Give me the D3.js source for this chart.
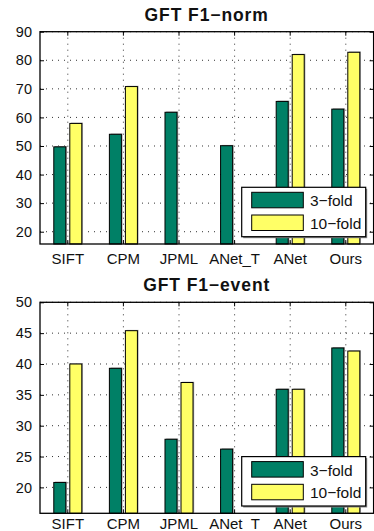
<!DOCTYPE html>
<html><head><meta charset="utf-8">
<script src="https://cdn.jsdelivr.net/npm/d3@7"></script>
<style>
html,body{margin:0;padding:0;background:#fff;}
svg{display:block;font-family:"Liberation Sans",Arial,Helvetica,sans-serif;}
</style></head>
<body>
<script>
const categories = ["SIFT","CPM","JPML","ANet_T","ANet","Ours"];
const seriesNames = ["3\u2212fold","10\u2212fold"];
const normThree = [49.7, 54.1, 61.8, 50.1, 65.6, 62.9];
const normTen   = [57.9, 70.8, null, null, 82.0, 82.8];
const eventThree = [20.8, 39.3, 27.8, 26.2, 35.9, 42.6];
const eventTen   = [40.0, 45.4, 37.0, null, 35.9, 42.1];
const normTicks = [20,30,40,50,60,70,80,90];
const eventTicks = [20,25,30,35,40,45,50];
const colors = ["#008066","#ffff66"];

const W = 374, H = 531;
const svg = d3.select("body").append("svg").attr("width", W).attr("height", H);

const panels = [
  {title:"GFT F1\u2212norm", three:normThree, ten:normTen, ticks:normTicks, domain:[15.7,90], top:31.7, bottom:244, titleY:20.7, pad:9},
  {title:"GFT F1\u2212event", three:eventThree, ten:eventTen, ticks:eventTicks, domain:[15.8,50], top:302.3, bottom:513.3, titleY:290.7, pad:5.5}
];
const left = 40, right = 373.6;

panels.forEach(p => {
  const g = svg.append("g");
  const x = d3.scaleBand().domain(categories).range([left, right]).padding(0);
  const y = d3.scaleLinear().domain(p.domain).range([p.bottom, p.top]);
  const bw = x.bandwidth();
  const cx = d => x(d) + bw/2;

  // grid
  g.append("g").selectAll("line").data(p.ticks).join("line")
    .attr("x1", left).attr("x2", right).attr("y1", d=>y(d)).attr("y2", d=>y(d))
    .attr("stroke","#333").attr("stroke-width",1).attr("stroke-dasharray","1,5");
  g.append("g").selectAll("line").data(categories).join("line")
    .attr("x1", d=>cx(d)).attr("x2", d=>cx(d)).attr("y1", p.top).attr("y2", p.bottom)
    .attr("stroke","#333").attr("stroke-width",1).attr("stroke-dasharray","1,5");

  // bars
  const series = [p.three, p.ten];
  series.forEach((vals, si) => {
    const data = categories.map((c,i)=>({c, v: vals[i]})).filter(d=>d.v!=null);
    const off = si===0 ? -0.252*bw : 0.036*bw;
    const w = 0.216*bw;
    g.append("g").selectAll("rect").data(data).join("rect")
      .attr("x", d=>cx(d.c)+off+1.2).attr("y", d=>y(d.v)-0.8)
      .attr("width", w).attr("height", d=>p.bottom - y(d.v))
      .attr("fill","#aaa");
    g.append("g").selectAll("rect").data(data).join("rect")
      .attr("x", d=>cx(d.c)+off).attr("y", d=>y(d.v))
      .attr("width", w).attr("height", d=>p.bottom - y(d.v))
      .attr("fill", colors[si]).attr("stroke","#000").attr("stroke-width",1);
  });

  // frame
  g.append("rect").attr("x",left).attr("y",p.top).attr("width",right-left).attr("height",p.bottom-p.top)
    .attr("fill","none").attr("stroke","#000").attr("stroke-width",1.3);

  // axes ticks (inward)
  const yAxisL = d3.axisLeft(y).tickValues(p.ticks).tickSize(-4).tickPadding(8).tickFormat(d3.format("d"));
  const ga = g.append("g").attr("transform",`translate(${left},0)`).call(yAxisL);
  ga.select(".domain").remove();
  ga.selectAll("text").attr("font-size",14.5).attr("fill","#111").attr("font-family","Liberation Sans, Arial, sans-serif");
  const yAxisR = d3.axisRight(y).tickValues(p.ticks).tickSize(-4).tickFormat("");
  const gr = g.append("g").attr("transform",`translate(${right},0)`).call(yAxisR);
  gr.select(".domain").remove();
  const xAxis = d3.axisBottom(x).tickSize(-4).tickPadding(p.pad);
  const gx = g.append("g").attr("transform",`translate(0,${p.bottom})`).call(xAxis);
  gx.select(".domain").remove();
  gx.selectAll("text").attr("font-size",15).attr("fill","#111").attr("font-family","Liberation Sans, Arial, sans-serif");
  const xAxisT = d3.axisTop(x).tickSize(-4).tickFormat("");
  const gt = g.append("g").attr("transform",`translate(0,${p.top})`).call(xAxisT);
  gt.select(".domain").remove();

  // title
  g.append("text").attr("x", 206.7).attr("y", p.titleY).attr("text-anchor","middle")
    .attr("font-size",17.5).attr("font-weight","bold").attr("letter-spacing",0.9).attr("fill","#111").text(p.title);

  // legend
  const lx = 241.7, ly = p.bottom - 56.7;
  const lg = g.append("g");
  lg.append("rect").attr("x",lx+1.5).attr("y",ly+1.5).attr("width",124).attr("height",49.4).attr("fill","#888");
  lg.append("rect").attr("x",lx).attr("y",ly).attr("width",124).attr("height",49.4)
    .attr("fill","#fff").attr("stroke","#000").attr("stroke-width",1.2);
  seriesNames.forEach((n,i)=>{
    const sy = ly + 5 + i*22.7;
    lg.append("rect").attr("x",lx+10).attr("y",sy).attr("width",51.6).attr("height",15.5)
      .attr("fill",colors[i]).attr("stroke","#000").attr("stroke-width",1);
    lg.append("text").attr("x",lx+68.3).attr("y",sy+14).attr("font-size",15.5).attr("fill","#111").text(n);
  });
});
</script>
</body></html>
